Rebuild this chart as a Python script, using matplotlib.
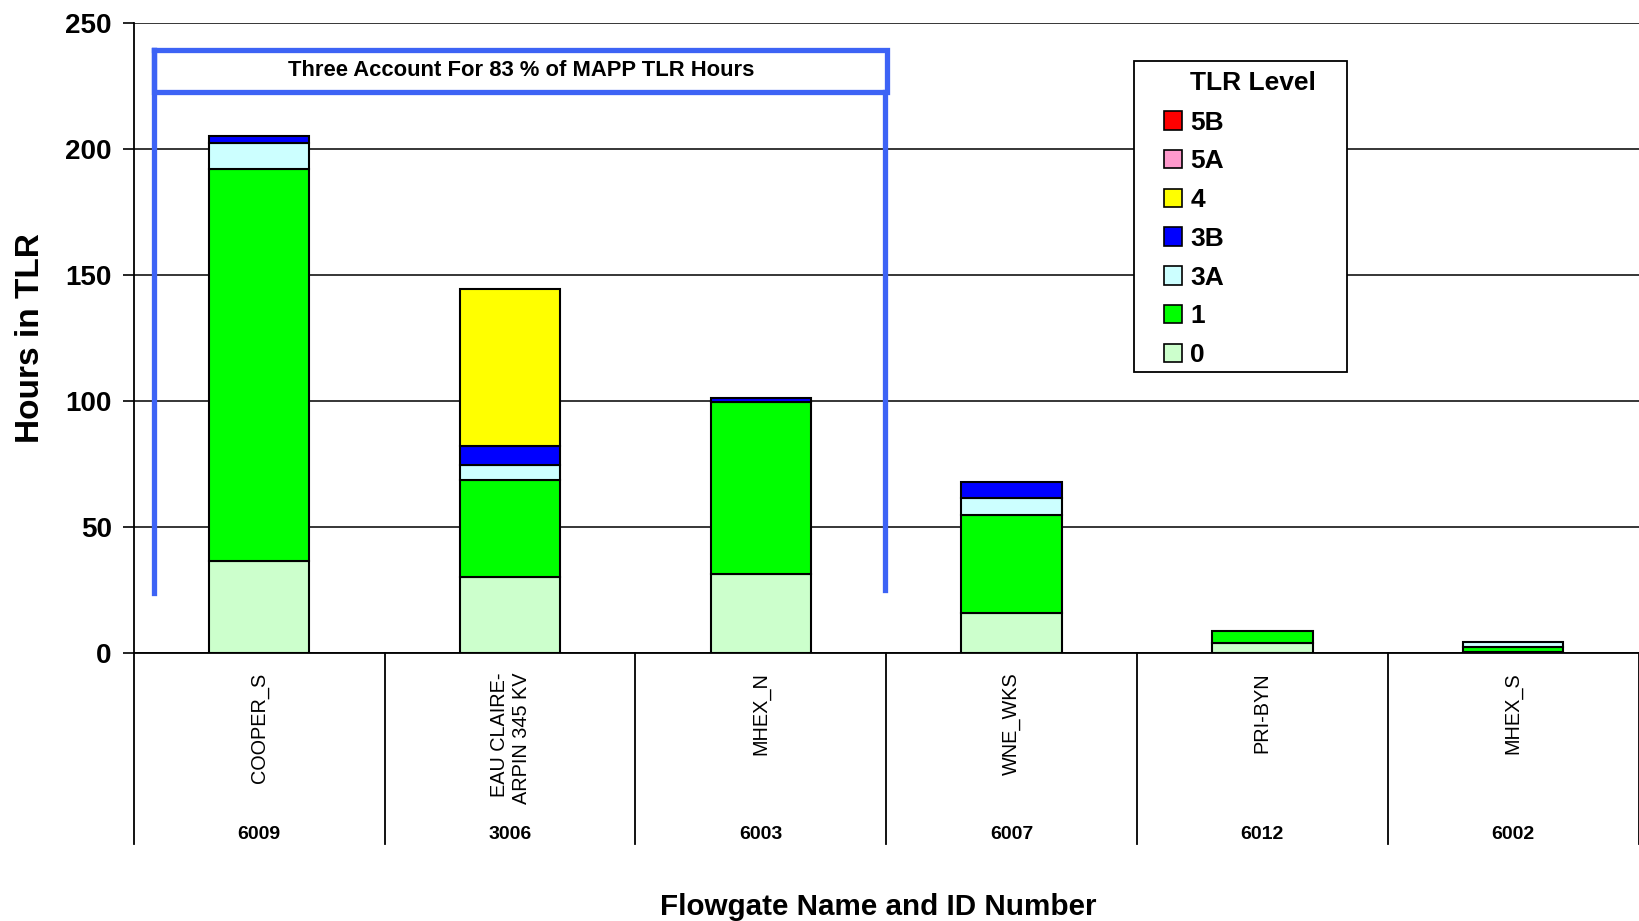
import matplotlib
matplotlib.use('Agg')
import matplotlib.pyplot as plt
from matplotlib.patches import Patch, Rectangle
import numpy as np

plt.rcParams['font.family'] = ['Liberation Sans', 'DejaVu Sans']

# Data
flowgates = ['COOPER_S', 'EAU CLAIRE-\nARPIN 345 KV', 'MHEX_N', 'WNE_WKS', 'PRI-BYN', 'MHEX_S']
flowgate_ids = ['6009', '3006', '6003', '6007', '6012', '6002']
levels = ['0', '1', '3A', '3B', '4', '5A', '5B']
hours_0 = [36.5, 30.0, 31.5, 16.0, 4.0, 0.3]
hours_1 = [155.5, 38.5, 68.0, 38.7, 4.6, 2.2]
hours_3a = [10.5, 6.0, 0.0, 6.7, 0.0, 2.0]
hours_3b = [2.5, 7.5, 1.5, 6.6, 0.0, 0.0]
hours_4 = [0.0, 62.5, 0.0, 0.0, 0.0, 0.0]
hours_5a = [0.0, 0.0, 0.0, 0.0, 0.0, 0.0]
hours_5b = [0.0, 0.0, 0.0, 0.0, 0.0, 0.0]

level_colors = ['#CCFFCC', '#00FF00', '#CCFFFF', '#0000FF', '#FFFF00', '#FF99CC', '#FF0000']
BRACKET = '#3D63F5'

fig = plt.figure(figsize=(16.39, 9.21), dpi=100)
ax = fig.add_axes([0.0817, 0.291, 0.918, 0.684])
ax.set_xlim(-0.5, 5.5)
ax.set_ylim(0, 250)

x = np.arange(len(flowgates))
bottom = np.zeros(len(flowgates))
series = [hours_0, hours_1, hours_3a, hours_3b, hours_4, hours_5a, hours_5b]
for vals, col in zip(series, level_colors):
    vals = np.array(vals)
    bars = ax.bar(x, vals, 0.4, bottom=bottom, color=col, edgecolor='black',
                  linewidth=1.5, zorder=3)
    for b, v in zip(bars, vals):
        if v == 0:
            b.set_visible(False)
    bottom += vals

# axes styling
ax.set_yticks(np.arange(0, 251, 50))
ax.tick_params(axis='y', labelsize=20, length=8, width=1.2, pad=8)
for t in ax.get_yticklabels():
    t.set_fontweight('bold')
ax.set_xticks([])
ax.yaxis.grid(True, color='black', linewidth=1.1, zorder=0)
ax.set_axisbelow(True)
for s in ['top', 'right']:
    ax.spines[s].set_visible(False)
ax.spines['left'].set_linewidth(1.3)
ax.spines['bottom'].set_linewidth(1.3)
ax.set_ylabel('Hours in TLR', fontsize=24, fontweight='bold', labelpad=14)

# category table below axis
tr = ax.get_xaxis_transform()
for b in np.arange(-0.5, 5.6, 1.0):
    ax.plot([b, b], [0, -0.3035], transform=tr, color='black', lw=1.3,
            clip_on=False)
for xi, name, fid in zip(x, flowgates, flowgate_ids):
    ax.text(xi, -0.031, name, transform=tr, rotation=90, ha='center', va='top',
            multialignment='right', fontsize=14.3)
    ax.text(xi, -0.2875, fid, transform=tr, ha='center', va='center',
            fontsize=14, fontweight='bold')
ax.text(0.4945, -0.4035, 'Flowgate Name and ID Number', transform=ax.transAxes,
        ha='center', va='center', fontsize=21.3, fontweight='bold')

# bracket annotation
bx0, bx1 = -0.42, 2.505
ax.plot([bx0, bx1, bx1, bx0, bx0], [239.2, 239.2, 222.6, 222.6, 239.2],
        color=BRACKET, lw=3.8, solid_joinstyle='miter', zorder=5, clip_on=False)
ax.plot([bx0, bx0], [239.2, 24], color=BRACKET, lw=3.8, zorder=5)
ax.plot([bx1 - 0.01, bx1 - 0.01], [222.6, 25], color=BRACKET, lw=3.8, zorder=5)
ax.text((bx0 + bx1) / 2, 231.0, 'Three Account For 83 % of MAPP TLR Hours',
        ha='center', va='center', fontsize=15.8, fontweight='bold', zorder=6)

# legend: frame, title and entries
ax.add_patch(Rectangle((0.665, 0.446), 0.141, 0.4943, transform=ax.transAxes,
                       facecolor='white', edgecolor='black', linewidth=1.3,
                       zorder=9, clip_on=False))
ax.text(0.7018, 0.9055, 'TLR Level', transform=ax.transAxes, ha='left',
        va='center', fontsize=19, fontweight='bold', zorder=10)
handles = [Patch(facecolor=c, edgecolor='black', linewidth=1.2, label=l)
           for l, c in zip(levels, level_colors)][::-1]
leg = ax.legend(handles=handles, loc='upper left',
                bbox_to_anchor=(0.6845, 0.861), fontsize=19, frameon=False,
                handlelength=0.7, handleheight=0.7, handletextpad=0.3,
                labelspacing=0.56, borderpad=0, borderaxespad=0)
leg.set_zorder(11)
for t in leg.get_texts():
    t.set_fontweight('bold')

fig.savefig('out.png', dpi=100, facecolor='white')
